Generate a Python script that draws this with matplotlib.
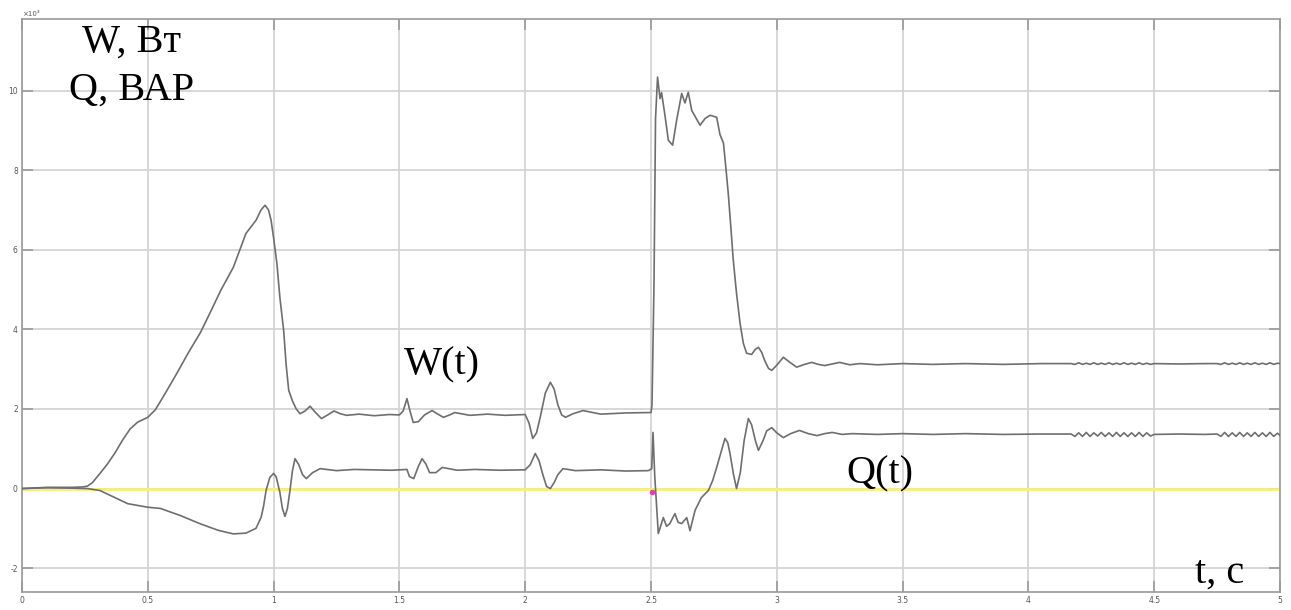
import matplotlib.pyplot as plt

# --- data (values in units of 10^3) ---
t_w = [0.0, 0.10, 0.20, 0.24, 0.26, 0.28, 0.31, 0.34, 0.37, 0.40, 0.43, 0.46,
       0.50, 0.53, 0.57, 0.615, 0.66, 0.71, 0.75, 0.79, 0.84, 0.89, 0.93,
       0.95, 0.966, 0.98, 0.99, 1.00, 1.013, 1.025, 1.04, 1.05, 1.06, 1.075,
       1.09, 1.105, 1.125, 1.145, 1.165, 1.19, 1.215, 1.24, 1.265, 1.29, 1.34,
       1.40, 1.46, 1.50, 1.515, 1.53, 1.542, 1.555, 1.575, 1.60, 1.63, 1.65,
       1.675, 1.70, 1.72, 1.78, 1.85, 1.92, 2.00, 2.015, 2.03, 2.045, 2.06,
       2.08, 2.10, 2.115, 2.13, 2.145, 2.16, 2.19, 2.23, 2.30, 2.40, 2.50,
       2.504, 2.512, 2.518, 2.526, 2.536, 2.542, 2.555, 2.569, 2.586, 2.602,
       2.622, 2.635, 2.648, 2.662, 2.68, 2.695, 2.715, 2.735, 2.761, 2.774,
       2.788, 2.797, 2.807, 2.817, 2.827, 2.84, 2.854, 2.867, 2.88, 2.90,
       2.915, 2.927, 2.94, 2.953, 2.967, 2.98, 3.00, 3.026, 3.05, 3.079,
       3.11, 3.139, 3.165, 3.19, 3.22, 3.25, 3.29, 3.33, 3.40, 3.50, 3.62,
       3.75, 3.90, 4.05]
w_vals = [0.0, 0.03, 0.03, 0.04, 0.06, 0.15, 0.38, 0.62, 0.90, 1.22, 1.50, 1.67,
          1.79, 1.98, 2.40, 2.89, 3.40, 3.93, 4.45, 4.98, 5.56, 6.41, 6.74,
          7.00, 7.12, 7.00, 6.74, 6.30, 5.66, 4.80, 3.97, 3.10, 2.47, 2.20,
          2.00, 1.88, 1.95, 2.07, 1.92, 1.76, 1.85, 1.95, 1.88, 1.84, 1.87,
          1.83, 1.86, 1.85, 1.95, 2.26, 1.95, 1.66, 1.68, 1.85, 1.96, 1.88,
          1.79, 1.85, 1.91, 1.84, 1.87, 1.84, 1.86, 1.65, 1.26, 1.40, 1.80,
          2.40, 2.67, 2.50, 2.10, 1.85, 1.79, 1.88, 1.96, 1.87, 1.90, 1.91,
          2.10, 5.20, 9.30, 10.34, 9.80, 9.95, 9.40, 8.75, 8.63, 9.26,
          9.93, 9.69, 9.96, 9.50, 9.30, 9.13, 9.30, 9.38, 9.33, 8.90,
          8.68, 8.10, 7.42, 6.60, 5.74, 4.90, 4.15, 3.65, 3.40, 3.37,
          3.50, 3.55, 3.42, 3.20, 3.02, 2.97, 3.10, 3.30, 3.18, 3.05,
          3.12, 3.17, 3.12, 3.09, 3.13, 3.17, 3.11, 3.14, 3.11, 3.14, 3.12,
          3.14, 3.12, 3.14]

t_q = [0.0, 0.10, 0.20, 0.26, 0.31, 0.36, 0.42, 0.50, 0.55, 0.63, 0.71, 0.78,
       0.84, 0.89, 0.93, 0.95, 0.96, 0.97, 0.985, 1.00, 1.01, 1.025, 1.035,
       1.045, 1.055, 1.065, 1.075, 1.085, 1.10, 1.115, 1.13, 1.155, 1.185,
       1.25, 1.32, 1.40, 1.47, 1.53, 1.54, 1.557, 1.575, 1.59, 1.605, 1.62,
       1.645, 1.67, 1.73, 1.80, 1.90, 2.00, 2.02, 2.04, 2.055, 2.07, 2.085,
       2.10, 2.115, 2.13, 2.15, 2.20, 2.30, 2.40, 2.49, 2.503, 2.508, 2.515,
       2.529, 2.549, 2.562, 2.575, 2.595, 2.608, 2.622, 2.642, 2.655, 2.675,
       2.70, 2.728, 2.745, 2.761, 2.78, 2.794, 2.805, 2.814, 2.828, 2.84,
       2.855, 2.87, 2.887, 2.90, 2.915, 2.927, 2.945, 2.96, 2.98, 3.00, 3.026,
       3.055, 3.09, 3.125, 3.16, 3.19, 3.22, 3.26, 3.30, 3.40, 3.50, 3.62,
       3.75, 3.90, 4.05]
q_vals = [0.0, 0.02, 0.01, 0.0, -0.05, -0.20, -0.38, -0.47, -0.50, -0.68, -0.89, -1.05,
          -1.14, -1.12, -1.00, -0.73, -0.45, -0.05, 0.28, 0.38, 0.30, -0.10, -0.50,
          -0.70, -0.50, -0.05, 0.45, 0.75, 0.60, 0.35, 0.25, 0.40, 0.50,
          0.45, 0.48, 0.47, 0.46, 0.48, 0.30, 0.25, 0.55, 0.75, 0.62, 0.40,
          0.40, 0.53, 0.46, 0.48, 0.46, 0.47, 0.60, 0.88, 0.70, 0.35, 0.05,
          0.0, 0.15, 0.35, 0.50, 0.45, 0.47, 0.44, 0.45, 0.50, 1.41, 0.30,
          -1.13, -0.73, -0.95, -0.88, -0.63, -0.85, -0.88, -0.73, -1.06, -0.55,
          -0.23, -0.05, 0.20, 0.53, 0.95, 1.26, 1.15, 0.88, 0.35, 0.0,
          0.40, 1.20, 1.76, 1.60, 1.20, 0.96, 1.20, 1.45, 1.53, 1.40, 1.28,
          1.38, 1.46, 1.38, 1.33, 1.38, 1.41, 1.36, 1.38, 1.36, 1.38, 1.36,
          1.38, 1.36, 1.37]

# ripple segments near the end of the run
t_rip_a = [4.170, 4.185, 4.200, 4.215, 4.230, 4.245, 4.260, 4.275, 4.290, 4.305,
           4.320, 4.335, 4.350, 4.365, 4.380, 4.395, 4.410, 4.425, 4.440, 4.455,
           4.470, 4.485, 4.500, 4.60, 4.70]
w_rip_a = [3.14, 3.12, 3.16, 3.12, 3.15, 3.12, 3.16, 3.12, 3.15, 3.12,
           3.16, 3.12, 3.15, 3.12, 3.16, 3.12, 3.15, 3.12, 3.16, 3.12,
           3.15, 3.12, 3.14, 3.13, 3.14]
q_rip_a = [1.37, 1.31, 1.40, 1.31, 1.41, 1.31, 1.40, 1.32, 1.41, 1.31,
           1.40, 1.31, 1.41, 1.31, 1.40, 1.31, 1.40, 1.31, 1.41, 1.31,
           1.40, 1.32, 1.36, 1.37, 1.36]
t_rip_b = [4.750, 4.765, 4.780, 4.795, 4.810, 4.825, 4.840, 4.855, 4.870, 4.885,
           4.900, 4.915, 4.930, 4.945, 4.960, 4.975, 4.990, 5.000]
w_rip_b = [3.14, 3.12, 3.16, 3.12, 3.15, 3.12, 3.16, 3.12, 3.15, 3.12,
           3.16, 3.12, 3.15, 3.12, 3.16, 3.12, 3.15, 3.14]
q_rip_b = [1.37, 1.31, 1.41, 1.31, 1.40, 1.31, 1.41, 1.31, 1.40, 1.31,
           1.41, 1.31, 1.40, 1.31, 1.41, 1.31, 1.39, 1.34]

t_zero = [0.0, 5.0]
zero_vals = [0.0, 0.0]

x_ticks = [0, 0.5, 1, 1.5, 2, 2.5, 3, 3.5, 4, 4.5, 5]
x_labels = ["0", "0.5", "1", "1.5", "2", "2.5", "3", "3.5", "4", "4.5", "5"]
y_ticks = [-2, 0, 2, 4, 6, 8, 10]
y_labels = ["-2", "0", "2", "4", "6", "8", "10"]

line_color = "#6e6e6e"
serif = ["Liberation Serif", "DejaVu Serif"]

fig = plt.figure(figsize=(12.91, 6.10), dpi=100)
ax = fig.add_axes([22 / 1291, 1 - 592 / 610, (1280 - 22) / 1291, (592 - 19) / 610])

ax.plot(t_zero, zero_vals, color="#f5f07a", lw=2.0, zorder=2)
ax.plot(t_w + t_rip_a + t_rip_b, w_vals + w_rip_a + w_rip_b, color=line_color, lw=1.2, zorder=3)
ax.plot(t_q + t_rip_a + t_rip_b, q_vals + q_rip_a + q_rip_b, color=line_color, lw=1.2, zorder=3)
ax.plot([2.503], [-0.08], marker="o", ms=3, color="#e040c0", zorder=4)

ax.set_xlim(0, 5)
ax.set_ylim(-2.6, 11.8)
ax.set_xticks(x_ticks)
ax.set_xticklabels(x_labels)
ax.set_yticks(y_ticks)
ax.set_yticklabels(y_labels)
ax.grid(True, color="#d4d4d4", lw=1.3)
ax.set_axisbelow(True)
ax.tick_params(direction="in", length=8, width=1.2, color="#9a9a9a",
               labelsize=5.5, labelcolor="#555555", top=True, right=True, pad=3)
for s in ax.spines.values():
    s.set_color("#9a9a9a")
    s.set_linewidth(1.2)

ax.text(0.0, 1.004, "×10³", transform=ax.transAxes, fontsize=5, color="#555555",
        ha="left", va="bottom")

ax.text(0.087, 0.96, "W, Вт", transform=ax.transAxes, fontsize=29, family=serif,
        ha="center", va="center")
ax.text(0.087, 0.875, "Q, ВАР", transform=ax.transAxes, fontsize=29, family=serif,
        ha="center", va="center")
ax.text(1.67, 3.1, "W(t)", fontsize=29, family=serif, ha="center", va="center")
ax.text(3.41, 0.38, "Q(t)", fontsize=29, family=serif, ha="center", va="center")
ax.text(4.76, -2.12, "t, c", fontsize=29, family=serif, ha="center", va="center")

fig.savefig("out.png", dpi=100)
